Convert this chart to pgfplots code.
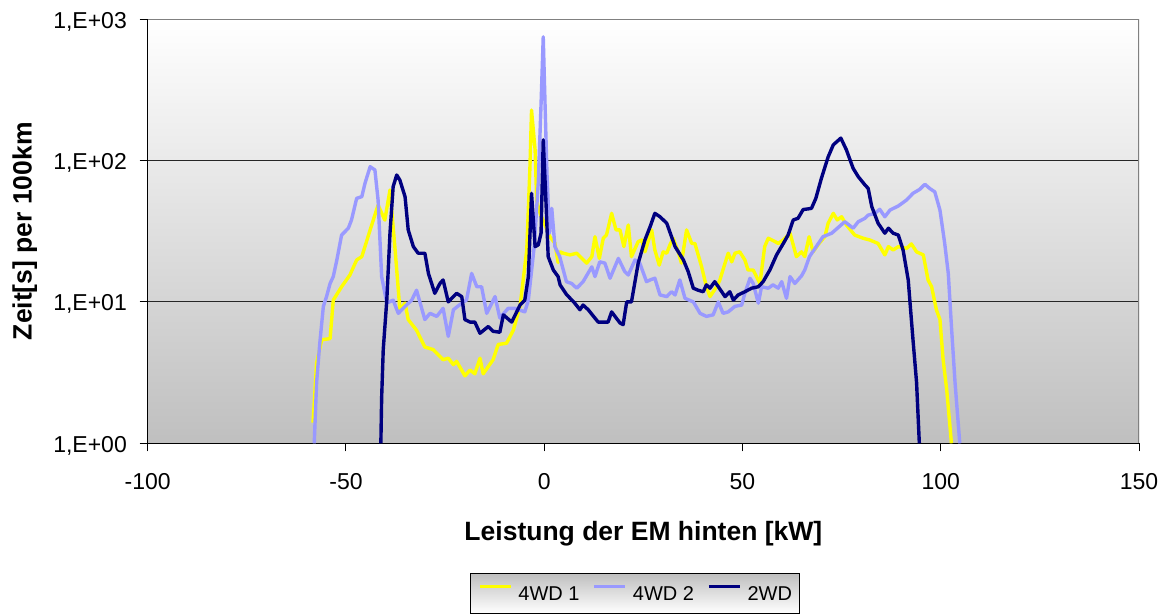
\documentclass[border=0pt]{standalone}
\usepackage{fontspec}
\setmainfont{Liberation Sans}
\usepackage{pgfplots}
\pgfplotsset{compat=1.18}

\definecolor{wdA}{RGB}{255,255,0}
\definecolor{wdB}{RGB}{153,153,255}
\definecolor{wdC}{RGB}{0,0,128}

% Zeitanteile je Leistungsklasse der hinteren E-Maschine
\pgfplotstableread{
x y
-58.3 1.4
-57.4 3.7
-56.1 5.4
-54.0 5.5
-53.2 10.3
-51.1 12.8
-49.0 15.5
-47.3 19.8
-46.0 20.9
-43.9 32.3
-41.9 48.4
-40.2 37.9
-38.9 61.9
-37.6 23.3
-36.4 8.8
-35.1 9.8
-34.3 7.5
-32.2 6.3
-30.1 4.8
-28.0 4.6
-25.5 3.9
-24.2 4.0
-22.9 3.6
-22.1 3.8
-20.0 3.0
-18.7 3.3
-17.5 3.1
-16.2 4.0
-15.4 3.1
-12.9 3.9
-11.6 5.0
-9.5 5.1
-7.8 6.3
-6.1 9.3
-4.4 23.3
-3.6 90
-3.2 227
-2.3 119
-1.9 52
-1.0 42
0.0 36
1.0 31
1.4 29
2.7 26
3.5 19
4.0 22.6
4.8 22.1
6.5 21.5
8.2 22.1
10.7 18.8
12.0 20.9
12.8 28.9
13.9 20.3
14.9 28.2
15.7 29.7
17.0 42.3
18.1 32.3
19.1 32.3
20.1 24.6
21.2 35.0
22.0 20.9
23.7 26.7
24.6 27.4
25.4 22.6
27.1 32.3
27.9 23.3
29.0 18.2
30.0 22.6
30.9 22.1
31.7 25.3
32.5 28.2
33.8 22.6
34.6 18.8
35.9 32.3
37.2 25.9
38.0 25.9
39.7 17.7
40.9 12.8
41.8 10.9
43.5 12.8
44.3 14.3
45.6 18.8
46.4 22.1
47.3 19.2
48.1 22.1
49.3 22.6
50.6 19.8
51.4 16.8
52.7 16.8
54.4 13.5
55.6 24.6
56.5 28.2
58.2 26.7
59.0 25.9
60.3 27.4
62.0 30.6
63.6 20.9
64.9 22.6
65.7 20.9
66.8 28.9
67.8 22.6
69.3 25.9
70.8 29.0
71.6 36.0
72.9 42.3
73.9 38.0
75.0 40.0
76.2 35.0
78.3 29.7
80.4 28.2
82.1 27.4
84.2 25.9
85.9 21.5
86.8 24.6
88.0 23.3
89.3 24.6
91.4 23.9
92.6 25.7
93.9 22.6
95.6 21.5
96.8 14.3
97.7 12.8
98.9 8.8
99.8 7.5
100.6 3.9
101.5 2.4
102.7 1.0
}\vierwdeins

\pgfplotstableread{
x y
-58.0 1.0
-57.4 2.7
-56.6 5.1
-55.7 9.3
-54.9 10.9
-54.0 13.5
-53.2 15.1
-52.3 19.8
-51.1 29.7
-49.4 33.2
-48.6 38.0
-47.3 54.0
-46.0 55.5
-45.2 69.0
-43.9 90.4
-42.7 85.7
-41.9 52.6
-41.0 15.1
-39.7 9.8
-38.1 10.3
-36.8 8.3
-35.1 9.3
-33.4 10.3
-32.2 12.1
-30.1 7.5
-28.8 8.3
-27.1 7.9
-25.5 9.0
-24.2 5.7
-22.9 8.8
-20.8 9.8
-19.6 10.3
-18.3 15.9
-17.0 12.8
-15.8 12.8
-14.5 8.3
-12.4 10.9
-11.2 7.7
-9.1 9.0
-7.4 9.0
-4.9 8.5
-4.0 10.3
-2.5 25
-1.5 70
-0.8 250
-0.25 750
0.3 200
0.7 80
1.3 30.6
1.9 45.9
2.7 24.6
3.9 20.9
5.6 13.9
6.9 13.5
8.2 12.5
9.8 13.9
12.0 17.7
12.8 15.1
14.0 19.2
15.3 18.8
16.6 14.7
18.7 20.3
20.3 16.4
21.2 15.5
22.9 19.8
24.1 18.8
25.8 13.9
26.7 14.3
27.9 14.7
29.2 11.2
30.9 10.9
32.1 11.8
33.0 11.2
34.2 14.3
35.5 10.6
37.6 10.0
39.3 8.3
40.9 7.9
42.6 8.1
43.9 10.0
45.1 8.3
46.4 8.5
48.1 9.3
49.8 9.5
50.6 11.5
51.9 14.7
52.7 13.5
54.0 9.8
54.8 12.8
56.5 12.5
57.7 13.2
59.0 12.5
59.9 13.9
61.1 10.6
62.0 15.1
63.2 13.5
64.9 15.3
65.7 16.8
66.9 20.9
68.6 24.6
70.3 28.9
72.5 30.6
75.8 36.9
77.9 33.2
79.2 36.9
80.9 39.0
81.7 41.1
83.4 42.3
84.6 45.2
85.9 40.0
87.2 44.6
89.3 47.7
91.4 52.6
93.0 58.6
94.7 62.5
96.0 67.9
97.2 63.5
98.5 60.0
99.8 44.6
101.0 25.9
101.9 15.9
102.7 6.7
103.6 2.7
104.8 1.0
}\vierwdzwei

\pgfplotstableread{
x y
-41.2 1.0
-41.0 2.1
-40.6 4.6
-39.7 10.3
-38.9 30.6
-38.1 65.3
-37.2 79.0
-36.4 72.6
-35.1 55.5
-34.3 32.3
-33.0 24.6
-31.8 22.1
-30.1 22.1
-29.2 15.9
-27.6 11.5
-26.3 13.5
-25.5 14.3
-24.2 10.0
-22.1 11.5
-20.8 10.9
-20.0 7.5
-18.7 7.2
-17.5 7.2
-16.2 6.0
-14.1 6.7
-12.9 6.2
-11.2 6.1
-10.3 8.1
-8.2 7.2
-6.1 9.5
-4.9 10.3
-4.0 15.1
-3.2 58.6
-2.3 24.6
-1.5 25.3
-0.8 30.6
-0.25 140
0.35 58.6
1.0 20.9
2.3 16.8
3.5 15.1
4.0 13.2
5.6 11.3
7.7 9.8
9.0 8.8
9.8 9.5
11.1 8.8
13.6 7.2
14.9 7.2
16.1 7.2
17.0 8.5
19.1 7.1
19.9 6.9
20.8 10.0
22.0 10.0
23.7 18.8
25.4 27.4
26.7 34.0
27.9 42.3
29.2 40.0
30.9 36.0
33.0 24.6
35.1 19.8
36.3 16.4
37.6 12.5
38.8 12.1
40.1 11.8
40.9 13.2
41.8 12.5
43.0 13.9
43.9 12.8
45.6 10.9
46.8 11.8
47.7 10.3
48.9 11.2
50.6 11.8
52.3 12.5
54.0 12.8
55.2 13.9
56.9 16.8
58.6 21.5
60.3 25.9
61.5 29.7
62.8 38.0
64.0 39.0
65.3 45.0
66.6 45.5
67.4 45.9
68.5 54.0
69.9 74.8
71.6 106
72.9 129
74.8 144
76.2 119
77.9 88.1
79.2 76.8
80.9 67.1
81.7 63.5
82.6 47.2
84.2 36.0
85.9 30.6
86.8 33.2
88.0 30.6
89.3 29.7
90.5 23.3
91.8 14.3
92.2 10.3
93.0 5.4
93.9 2.7
94.6 1.0
}\zweiwd

\begin{document}
\begin{tikzpicture}[x=1pt,y=1pt]
\useasboundingbox (0,0) rectangle (1166,613);
\begin{axis}[
  at={(147.7pt,169.7pt)}, anchor=south west,
  scale only axis, width=991.3pt, height=424.2pt,
  xmin=-100, xmax=150, ymin=1, ymax=1000, ymode=log,
  axis lines*=left,
  axis line style={black, line width=1.2pt},
  xtick={-100,-50,0,50,100,150},
  xticklabels={-100,-50,0,50,100,150},
  ytick={1,10,100,1000},
  yticklabels={{1,E+00},{1,E+01},{1,E+02},{1,E+03}},
  yminorticks=false, xminorticks=false,
  tick align=outside, major tick length=8pt,
  tick style={black, line width=1pt},
  ymajorgrids, grid style={black!85, line width=1pt},
  axis background/.style={top color=white, bottom color=black!25},
  ticklabel style={font=\fontsize{23}{23}\selectfont, inner sep=0pt},
  xticklabel style={anchor=base, yshift=-38.7pt},
  yticklabel style={anchor=base east, xshift=-12.7pt, yshift=-9pt},
  xlabel={Leistung der EM hinten [kW]},
  ylabel={Zeit[s] per 100km},
  xlabel style={at={(axis description cs:0.5,-0.2296)}, anchor=base,
    font=\bfseries\fontsize{26.5}{26.5}\selectfont},
  ylabel style={at={(axis description cs:-0.124,0.5)}, anchor=center,
    font=\bfseries\fontsize{26.5}{26.5}\selectfont},
  legend columns=3,
  legend style={at={(axis description cs:0.4916,-0.354)}, anchor=center,
    draw=black, line width=1pt, top color=black!25, bottom color=white,
    inner xsep=8pt, inner ysep=11pt,
    font=\fontsize{20}{20}\selectfont,
    nodes={inner sep=0pt},
    /tikz/every odd column/.append style={column sep=6pt},
    /tikz/every even column/.append style={column sep=13pt}},
  legend image code/.code={\draw[#1, line width=3.4pt] (0pt,8pt) -- (31pt,8pt);},
]
\addplot[wdA, line width=3.4pt, line join=round] table {\vierwdeins};
\addlegendentry{4WD 1}
\addplot[wdB, line width=3.4pt, line join=round] table {\vierwdzwei};
\addlegendentry{4WD 2}
\addplot[wdC, line width=3.4pt, line join=round] table {\zweiwd};
\addlegendentry{2WD}
\draw[black!50, line width=1.3pt] (rel axis cs:0,1) -- (rel axis cs:1,1) -- (rel axis cs:1,0);
\end{axis}
\end{tikzpicture}
\end{document}
